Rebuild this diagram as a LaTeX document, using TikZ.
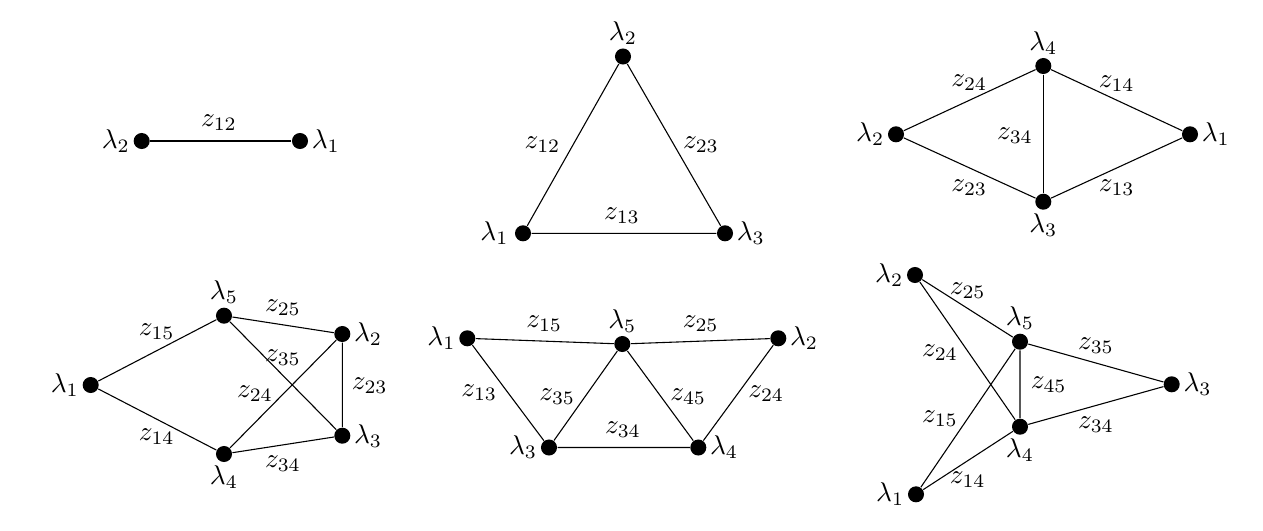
\documentclass[tikz,border=0pt]{standalone}
\begin{document}
\begin{tikzpicture}[x=0.368pt, y=-0.368pt,
    vtx/.style={circle, fill=black, inner sep=0pt, minimum size=5.9pt},
    zlab/.style={inner sep=0pt},
    every label/.append style={inner sep=1pt},
    label distance=0pt]
    \useasboundingbox (0,0) rectangle (1263,530);

    % graph 1: two vertices
    \node[vtx, label=left:$\lambda_2$]  (a2) at (141.7,141) {};
    \node[vtx, label=right:$\lambda_1$] (a1) at (300,141) {};
    \draw (a2) -- (a1);
    \node[zlab] (a12) at (219,123) {$z_{12}$};

    % graph 2: triangle
    \node[vtx, label=above:$\lambda_2$] (b2) at (623,56.5) {};
    \node[vtx, label={[label distance=1pt]left:$\lambda_1$}] (b1) at (523,233.3) {};
    \node[vtx, label=right:$\lambda_3$] (b3) at (725,233.3) {};
    \draw (b1) -- (b2) -- (b3) -- (b1);
    \node[zlab] (b12) at (542.5,144.7) {$z_{12}$};
    \node[zlab] (b23) at (701,144.7) {$z_{23}$};
    \node[zlab] (b13) at (622,216) {$z_{13}$};

    % graph 3: rhombus with diagonal
    \node[vtx, label=above:$\lambda_4$] (c4) at (1043.3,66) {};
    \node[vtx, label=left:$\lambda_2$]  (c2) at (896,134.3) {};
    \node[vtx, label=right:$\lambda_1$] (c1) at (1190,134.3) {};
    \node[vtx, label=below:$\lambda_3$] (c3) at (1043.3,201.7) {};
    \draw (c2) -- (c4) -- (c1) -- (c3) -- (c2);
    \draw (c4) -- (c3);
    \node[zlab] (c24) at (969.3,82.5) {$z_{24}$};
    \node[zlab] (c14) at (1116.7,83.7) {$z_{14}$};
    \node[zlab] (c34) at (1015,135.5) {$z_{34}$};
    \node[zlab] (c23) at (969.3,187.8) {$z_{23}$};
    \node[zlab] (c13) at (1116.7,187.8) {$z_{13}$};

    % graph 4: five vertices, crossing
    \node[vtx, label=left:$\lambda_1$]  (d1) at (90.7,385) {};
    \node[vtx, label=above:$\lambda_5$] (d5) at (224,315.7) {};
    \node[vtx, label=right:$\lambda_2$] (d2) at (342.3,334) {};
    \node[vtx, label=right:$\lambda_3$] (d3) at (342.3,435.7) {};
    \node[vtx, label=below:$\lambda_4$] (d4) at (224,454) {};
    \draw (d1) -- (d5) -- (d2) -- (d3) -- (d4) -- (d1);
    \draw (d5) -- (d3);
    \draw (d4) -- (d2);
    \node[zlab] (d15) at (156.7,331.7) {$z_{15}$};
    \node[zlab] (d14) at (156.7,436.7) {$z_{14}$};
    \node[zlab] (d25) at (283,307.5) {$z_{25}$};
    \node[zlab] (d35) at (283,358) {$z_{35}$};
    \node[zlab] (d24) at (255,394) {$z_{24}$};
    \node[zlab] (d23) at (369.7,385.8) {$z_{23}$};
    \node[zlab] (d34) at (283,464) {$z_{34}$};

    % graph 5: trapezoid
    \node[vtx, label=left:$\lambda_1$]  (e1) at (467.3,338.3) {};
    \node[vtx, label=above:$\lambda_5$] (e5) at (622.3,344) {};
    \node[vtx, label=right:$\lambda_2$] (e2) at (778.3,338.3) {};
    \node[vtx, label=left:$\lambda_3$]  (e3) at (549,447.5) {};
    \node[vtx, label=right:$\lambda_4$] (e4) at (698.3,447.5) {};
    \draw (e1) -- (e5) -- (e2) -- (e4) -- (e3) -- (e1);
    \draw (e3) -- (e5) -- (e4);
    \node[zlab] (e15) at (544.3,323.8) {$z_{15}$};
    \node[zlab] (e25) at (700.8,323.8) {$z_{25}$};
    \node[zlab] (e13) at (479.3,392.8) {$z_{13}$};
    \node[zlab] (e35) at (557.3,397) {$z_{35}$};
    \node[zlab] (e45) at (688.3,397) {$z_{45}$};
    \node[zlab] (e24) at (766.3,393.7) {$z_{24}$};
    \node[zlab] (e34) at (623,429.5) {$z_{34}$};

    % graph 6: crossed arrow shape
    \node[vtx, label=left:$\lambda_2$]  (f2) at (915,275) {};
    \node[vtx, label=above:$\lambda_5$] (f5) at (1020,341.7) {};
    \node[vtx, label=right:$\lambda_3$] (f3) at (1171.7,384.3) {};
    \node[vtx, label=below:$\lambda_4$] (f4) at (1020,426.7) {};
    \node[vtx, label=left:$\lambda_1$]  (f1) at (916,494.3) {};
    \draw (f2) -- (f5) -- (f3) -- (f4) -- (f1) -- (f5) -- (f4) -- (f2);
    \node[zlab] (f25) at (967.8,290.2) {$z_{25}$};
    \node[zlab] (f24) at (940,352.5) {$z_{24}$};
    \node[zlab] (f35) at (1096,345.5) {$z_{35}$};
    \node[zlab] (f45) at (1048.7,385) {$z_{45}$};
    \node[zlab] (f15) at (940,418.3) {$z_{15}$};
    \node[zlab] (f34) at (1096,424.2) {$z_{34}$};
    \node[zlab] (f14) at (967.8,479.5) {$z_{14}$};
\end{tikzpicture}
\end{document}
